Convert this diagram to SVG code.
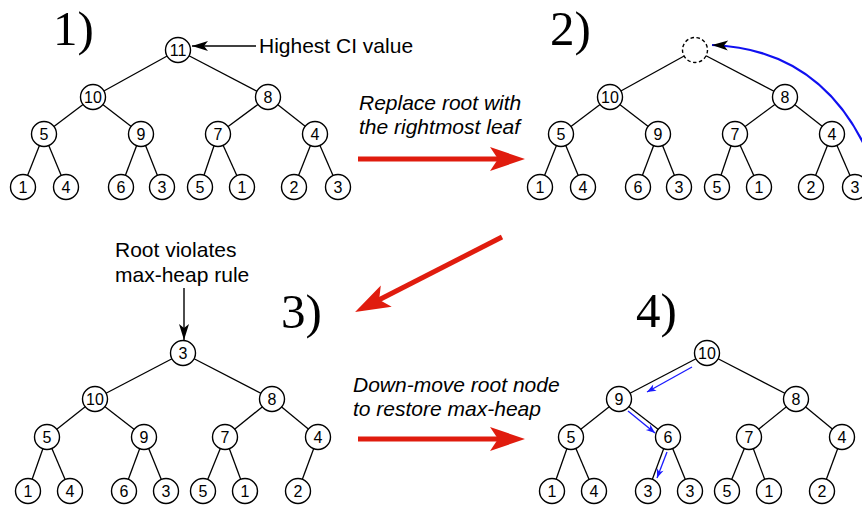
<svg xmlns="http://www.w3.org/2000/svg" width="862" height="509" viewBox="0 0 862 509">
<style>
.n circle{fill:#fff;stroke:#000;stroke-width:1.4}
.n text{font-family:"Liberation Sans",Arial,sans-serif;font-size:16px;text-anchor:middle;fill:#000}
.e line{stroke:#000;stroke-width:1.3}
.lbl{font-family:"Liberation Sans",Arial,sans-serif;font-size:21px;fill:#000}
.it{font-style:italic}
.step{font-family:"Liberation Serif","Times New Roman",serif;font-size:49px;fill:#000}
.red{stroke:#e01c0e;stroke-width:5;fill:none}
.blk{stroke:#000;stroke-width:1.4;fill:none}
.bsm{stroke:#1a1aff;stroke-width:1.3;fill:none}
</style>
<defs>
<marker id="redHead" markerUnits="userSpaceOnUse" markerWidth="40" markerHeight="26" refX="25" refY="12" orient="auto" overflow="visible">
<path d="M0,0 L35,12 L0,24 L8,12 Z" fill="#e01c0e"/>
</marker>
<marker id="blkHead" markerUnits="userSpaceOnUse" markerWidth="18" markerHeight="12" refX="16" refY="5" orient="auto" overflow="visible">
<path d="M0,0 L16,5 L0,10 L4,5 Z" fill="#000"/>
</marker>
<marker id="bluHead" markerUnits="userSpaceOnUse" markerWidth="12" markerHeight="8" refX="9" refY="3.5" orient="auto" overflow="visible">
<path d="M0,0 L9,3.5 L0,7 L2.5,3.5 Z" fill="#1a1aff"/>
</marker>
</defs>
<rect width="862" height="509" fill="#fff"/>

<!-- step labels -->
<text class="step" x="53" y="45">1)</text>
<text class="step" x="550" y="45">2)</text>
<text class="step" x="281" y="328">3)</text>
<text class="step" x="636" y="327">4)</text>

<!-- annotations -->
<text class="lbl" x="259" y="53">Highest CI value</text>
<text class="lbl it" x="359" y="110">Replace root with</text>
<text class="lbl it" x="359" y="134">the rightmost leaf</text>
<text class="lbl" x="115" y="257">Root violates</text>
<text class="lbl" x="115" y="282">max-heap rule</text>
<text class="lbl it" x="353" y="392">Down-move root node</text>
<text class="lbl it" x="353" y="416">to restore max-heap</text>

<g id="connectors">
<!-- tree 1 edges -->
<g class="e">
<line x1="178" y1="50" x2="93" y2="97"/><line x1="178" y1="50" x2="268" y2="97"/>
<line x1="93" y1="97" x2="44" y2="134"/><line x1="93" y1="97" x2="141" y2="134"/>
<line x1="268" y1="97" x2="218" y2="134"/><line x1="268" y1="97" x2="315" y2="134"/>
<line x1="44" y1="134" x2="23" y2="187"/><line x1="44" y1="134" x2="66" y2="187"/>
<line x1="141" y1="134" x2="121" y2="187"/><line x1="141" y1="134" x2="162" y2="187"/>
<line x1="218" y1="134" x2="200" y2="187"/><line x1="218" y1="134" x2="242" y2="187"/>
<line x1="315" y1="134" x2="294" y2="187"/><line x1="315" y1="134" x2="338" y2="187"/>
</g>
<!-- tree 2 edges -->
<g class="e">
<line x1="695" y1="50" x2="610" y2="97"/><line x1="695" y1="50" x2="785" y2="97"/>
<line x1="610" y1="97" x2="561" y2="134"/><line x1="610" y1="97" x2="658" y2="134"/>
<line x1="785" y1="97" x2="735" y2="134"/><line x1="785" y1="97" x2="832" y2="134"/>
<line x1="561" y1="134" x2="540" y2="187"/><line x1="561" y1="134" x2="583" y2="187"/>
<line x1="658" y1="134" x2="638" y2="187"/><line x1="658" y1="134" x2="679" y2="187"/>
<line x1="735" y1="134" x2="717" y2="187"/><line x1="735" y1="134" x2="759" y2="187"/>
<line x1="832" y1="134" x2="811" y2="187"/><line x1="832" y1="134" x2="855" y2="187"/>
</g>
<!-- tree 3 edges -->
<g class="e">
<line x1="183" y1="353" x2="95" y2="399"/><line x1="183" y1="353" x2="272" y2="399"/>
<line x1="95" y1="399" x2="47" y2="437"/><line x1="95" y1="399" x2="144" y2="437"/>
<line x1="272" y1="399" x2="225" y2="437"/><line x1="272" y1="399" x2="318" y2="437"/>
<line x1="47" y1="437" x2="28" y2="491"/><line x1="47" y1="437" x2="70" y2="491"/>
<line x1="144" y1="437" x2="124" y2="491"/><line x1="144" y1="437" x2="166" y2="491"/>
<line x1="225" y1="437" x2="203" y2="491"/><line x1="225" y1="437" x2="245" y2="491"/>
<line x1="318" y1="437" x2="298" y2="491"/>
</g>
<!-- tree 4 edges -->
<g class="e">
<line x1="707" y1="353" x2="619" y2="399"/><line x1="707" y1="353" x2="796" y2="399"/>
<line x1="619" y1="399" x2="571" y2="437"/><line x1="619" y1="399" x2="668" y2="437"/>
<line x1="796" y1="399" x2="749" y2="437"/><line x1="796" y1="399" x2="842" y2="437"/>
<line x1="571" y1="437" x2="552" y2="491"/><line x1="571" y1="437" x2="594" y2="491"/>
<line x1="668" y1="437" x2="648" y2="491"/><line x1="668" y1="437" x2="690" y2="491"/>
<line x1="749" y1="437" x2="727" y2="491"/><line x1="749" y1="437" x2="769" y2="491"/>
<line x1="842" y1="437" x2="822" y2="491"/>
</g>
<!-- annotation arrows -->
<line class="blk" x1="256" y1="46" x2="192" y2="46" marker-end="url(#blkHead)"/>
<line class="blk" x1="184" y1="288" x2="184" y2="340" marker-end="url(#blkHead)"/>
<!-- red step arrows -->
<line class="red" x1="358" y1="159" x2="515" y2="159" marker-end="url(#redHead)"/>
<line class="red" x1="502" y1="237" x2="364" y2="307.5" marker-end="url(#redHead)"/>
<line class="red" x1="358" y1="439" x2="515" y2="439" marker-end="url(#redHead)"/>
<!-- blue move arrow in 2) -->
<path d="M875,170 C845,90 790,48 712,45" stroke="#1010f0" stroke-width="2.2" fill="none" marker-end="url(#blkHead)"/>
<!-- blue down-move arrows in 4) -->
<line class="bsm" x1="692" y1="367" x2="647" y2="392" marker-end="url(#bluHead)"/>
<line class="bsm" x1="628" y1="411" x2="655" y2="433" marker-end="url(#bluHead)"/>
<line class="bsm" x1="667" y1="452" x2="657" y2="478" marker-end="url(#bluHead)"/>
</g>

<!-- tree 1 nodes -->
<g id="t1-root" class="n" transform="translate(178,50)"><circle r="12.5"/><text y="5.7">11</text></g>
<g id="t1-10" class="n" transform="translate(93,97)"><circle r="12.5"/><text y="5.7">10</text></g>
<g id="t1-8" class="n" transform="translate(268,97)"><circle r="12.5"/><text y="5.7">8</text></g>
<g id="t1-5" class="n" transform="translate(44,134)"><circle r="12.5"/><text y="5.7">5</text></g>
<g id="t1-9" class="n" transform="translate(141,134)"><circle r="12.5"/><text y="5.7">9</text></g>
<g id="t1-7" class="n" transform="translate(218,134)"><circle r="12.5"/><text y="5.7">7</text></g>
<g id="t1-4" class="n" transform="translate(315,134)"><circle r="12.5"/><text y="5.7">4</text></g>
<g id="t1-l1" class="n" transform="translate(23,187)"><circle r="12.5"/><text y="5.7">1</text></g>
<g id="t1-l2" class="n" transform="translate(66,187)"><circle r="12.5"/><text y="5.7">4</text></g>
<g id="t1-l3" class="n" transform="translate(121,187)"><circle r="12.5"/><text y="5.7">6</text></g>
<g id="t1-l4" class="n" transform="translate(162,187)"><circle r="12.5"/><text y="5.7">3</text></g>
<g id="t1-l5" class="n" transform="translate(200,187)"><circle r="12.5"/><text y="5.7">5</text></g>
<g id="t1-l6" class="n" transform="translate(242,187)"><circle r="12.5"/><text y="5.7">1</text></g>
<g id="t1-l7" class="n" transform="translate(294,187)"><circle r="12.5"/><text y="5.7">2</text></g>
<g id="t1-l8" class="n" transform="translate(338,187)"><circle r="12.5"/><text y="5.7">3</text></g>

<!-- tree 2 nodes -->
<g id="t2-root" class="n" transform="translate(695,50)"><circle r="12.5" stroke-dasharray="3.5,2.5"/></g>
<g id="t2-10" class="n" transform="translate(610,97)"><circle r="12.5"/><text y="5.7">10</text></g>
<g id="t2-8" class="n" transform="translate(785,97)"><circle r="12.5"/><text y="5.7">8</text></g>
<g id="t2-5" class="n" transform="translate(561,134)"><circle r="12.5"/><text y="5.7">5</text></g>
<g id="t2-9" class="n" transform="translate(658,134)"><circle r="12.5"/><text y="5.7">9</text></g>
<g id="t2-7" class="n" transform="translate(735,134)"><circle r="12.5"/><text y="5.7">7</text></g>
<g id="t2-4" class="n" transform="translate(832,134)"><circle r="12.5"/><text y="5.7">4</text></g>
<g id="t2-l1" class="n" transform="translate(540,187)"><circle r="12.5"/><text y="5.7">1</text></g>
<g id="t2-l2" class="n" transform="translate(583,187)"><circle r="12.5"/><text y="5.7">4</text></g>
<g id="t2-l3" class="n" transform="translate(638,187)"><circle r="12.5"/><text y="5.7">6</text></g>
<g id="t2-l4" class="n" transform="translate(679,187)"><circle r="12.5"/><text y="5.7">3</text></g>
<g id="t2-l5" class="n" transform="translate(717,187)"><circle r="12.5"/><text y="5.7">5</text></g>
<g id="t2-l6" class="n" transform="translate(759,187)"><circle r="12.5"/><text y="5.7">1</text></g>
<g id="t2-l7" class="n" transform="translate(811,187)"><circle r="12.5"/><text y="5.7">2</text></g>
<g id="t2-l8" class="n" transform="translate(855,187)"><circle r="12.5"/><text y="5.7">3</text></g>

<!-- tree 3 nodes -->
<g id="t3-root" class="n" transform="translate(183,353)"><circle r="12.5"/><text y="5.7">3</text></g>
<g id="t3-10" class="n" transform="translate(95,399)"><circle r="12.5"/><text y="5.7">10</text></g>
<g id="t3-8" class="n" transform="translate(272,399)"><circle r="12.5"/><text y="5.7">8</text></g>
<g id="t3-5" class="n" transform="translate(47,437)"><circle r="12.5"/><text y="5.7">5</text></g>
<g id="t3-9" class="n" transform="translate(144,437)"><circle r="12.5"/><text y="5.7">9</text></g>
<g id="t3-7" class="n" transform="translate(225,437)"><circle r="12.5"/><text y="5.7">7</text></g>
<g id="t3-4" class="n" transform="translate(318,437)"><circle r="12.5"/><text y="5.7">4</text></g>
<g id="t3-l1" class="n" transform="translate(28,491)"><circle r="12.5"/><text y="5.7">1</text></g>
<g id="t3-l2" class="n" transform="translate(70,491)"><circle r="12.5"/><text y="5.7">4</text></g>
<g id="t3-l3" class="n" transform="translate(124,491)"><circle r="12.5"/><text y="5.7">6</text></g>
<g id="t3-l4" class="n" transform="translate(166,491)"><circle r="12.5"/><text y="5.7">3</text></g>
<g id="t3-l5" class="n" transform="translate(203,491)"><circle r="12.5"/><text y="5.7">5</text></g>
<g id="t3-l6" class="n" transform="translate(245,491)"><circle r="12.5"/><text y="5.7">1</text></g>
<g id="t3-l7" class="n" transform="translate(298,491)"><circle r="12.5"/><text y="5.7">2</text></g>

<!-- tree 4 nodes -->
<g id="t4-root" class="n" transform="translate(707,353)"><circle r="12.5"/><text y="5.7">10</text></g>
<g id="t4-9" class="n" transform="translate(619,399)"><circle r="12.5"/><text y="5.7">9</text></g>
<g id="t4-8" class="n" transform="translate(796,399)"><circle r="12.5"/><text y="5.7">8</text></g>
<g id="t4-5" class="n" transform="translate(571,437)"><circle r="12.5"/><text y="5.7">5</text></g>
<g id="t4-6" class="n" transform="translate(668,437)"><circle r="12.5"/><text y="5.7">6</text></g>
<g id="t4-7" class="n" transform="translate(749,437)"><circle r="12.5"/><text y="5.7">7</text></g>
<g id="t4-4" class="n" transform="translate(842,437)"><circle r="12.5"/><text y="5.7">4</text></g>
<g id="t4-l1" class="n" transform="translate(552,491)"><circle r="12.5"/><text y="5.7">1</text></g>
<g id="t4-l2" class="n" transform="translate(594,491)"><circle r="12.5"/><text y="5.7">4</text></g>
<g id="t4-l3" class="n" transform="translate(648,491)"><circle r="12.5"/><text y="5.7">3</text></g>
<g id="t4-l4" class="n" transform="translate(690,491)"><circle r="12.5"/><text y="5.7">3</text></g>
<g id="t4-l5" class="n" transform="translate(727,491)"><circle r="12.5"/><text y="5.7">5</text></g>
<g id="t4-l6" class="n" transform="translate(769,491)"><circle r="12.5"/><text y="5.7">1</text></g>
<g id="t4-l7" class="n" transform="translate(822,491)"><circle r="12.5"/><text y="5.7">2</text></g>
</svg>
